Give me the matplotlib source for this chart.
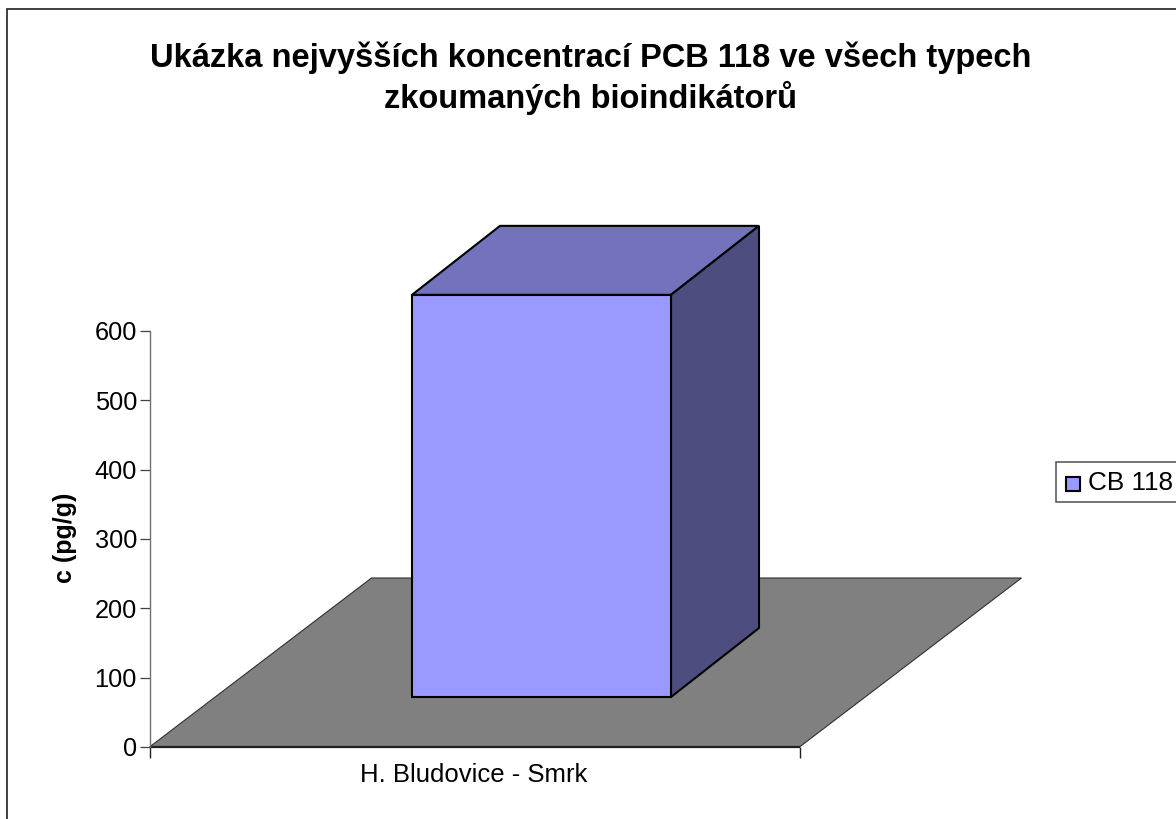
import matplotlib
matplotlib.use("Agg")
import matplotlib.pyplot as plt
from matplotlib.patches import Polygon, Rectangle

plt.rcParams['font.family'] = ['Liberation Sans', 'DejaVu Sans']

title = "Ukázka nejvyšších koncentrací PCB 118 ve všech typech\nzkoumaných bioindikátorů"
categories = ["H. Bludovice - Smrk"]
values = [580]
series_name = "CB 118"
y_ticks = [0, 100, 200, 300, 400, 500, 600]
y_label = "c (pg/g)"

W, H = 1176, 819
fig = plt.figure(figsize=(W / 100, H / 100), dpi=100, facecolor="white")
bg = fig.add_axes([0, 0, 1, 1])
bg.set_axis_off()
bg.set_xlim(0, W)
bg.set_ylim(H, 0)
# chart frame runs off the right and bottom of the picture
bg.plot([7, 7, W], [H, 9, 9], color="#202020", lw=1.2, solid_joinstyle="miter")

L, R, T, B = 149.5, 799.5, 331, 747
ax = fig.add_axes([L / W, 1 - B / H, (R - L) / W, (B - T) / H])
ax.patch.set_alpha(0)
ax.set_xlim(0, 1)
ax.set_ylim(0, 600)
for s in ("top", "right", "bottom"):
    ax.spines[s].set_visible(False)
ax.spines["left"].set_linewidth(1.0)
ax.spines["left"].set_color("#707070")
ax.set_yticks(y_ticks)
ax.set_xticks([0, 1])
ax.set_xticklabels([])
ax.tick_params(axis="y", labelsize=18.3, length=7, width=0.9, pad=2, color="#404040")
ax.tick_params(axis="x", length=8, width=1.0, color="#202020")
ax.get_xticklines()[0].set_color("#707070")
ax.text(474, 775, categories[0], transform=bg.transData, ha="center", va="center", fontsize=18.5)
fig.text(65 / W, 1 - 538 / H, y_label, rotation=90, ha="center", va="center", fontsize=18, fontweight="bold")

# 3D projection of the floor and the bar: depth shift expressed in axes units
dx_floor, dy_floor = 222 / (R - L), 169 / (B - T) * 600
dx_bar, dy_bar = 88 / (R - L), 69 / (B - T) * 600
bar_left, bar_right = (412 - L) / (R - L), (671 - L) / (R - L)
base = 50 / (B - T) * 600


def poly(points, fc):
    ax.add_patch(Polygon(points, closed=True, fc=fc, ec="black", lw=1.5, clip_on=False,
                         joinstyle="miter", zorder=3))


floor = [(0, 0), (1, 0), (1 + dx_floor, dy_floor), (dx_floor, dy_floor)]
ax.add_patch(Polygon(floor, closed=True, fc="#808080", ec="#303030", lw=0.8, clip_on=False, zorder=1))
ax.plot([0, 1], [0, 0], color="#202020", lw=1.6, clip_on=False, zorder=2, solid_capstyle="butt")

v = values[0]
bottom, top = base, base + v
poly([(bar_left, top), (bar_right, top), (bar_right + dx_bar, top + dy_bar), (bar_left + dx_bar, top + dy_bar)], "#7373BD")
poly([(bar_right, bottom), (bar_right + dx_bar, bottom + dy_bar), (bar_right + dx_bar, top + dy_bar), (bar_right, top)], "#4D4D80")
poly([(bar_left, bottom), (bar_right, bottom), (bar_right, top), (bar_left, top)], "#9999FF")

bg.text(591, 78, title, ha="center", va="center", fontsize=23.5, fontweight="bold", linespacing=1.26)

# legend
bg.add_patch(Rectangle((1055.5, 461.5), 140, 40.5, fc="white", ec="#505050", lw=1.1, clip_on=True))
bg.add_patch(Rectangle((1065.5, 476.5), 14.5, 14.5, fc="#9999FF", ec="black", lw=1.5))
bg.text(1088, 482.5, series_name, ha="left", va="center", fontsize=18.8)

fig.savefig("out.png", dpi=100)
